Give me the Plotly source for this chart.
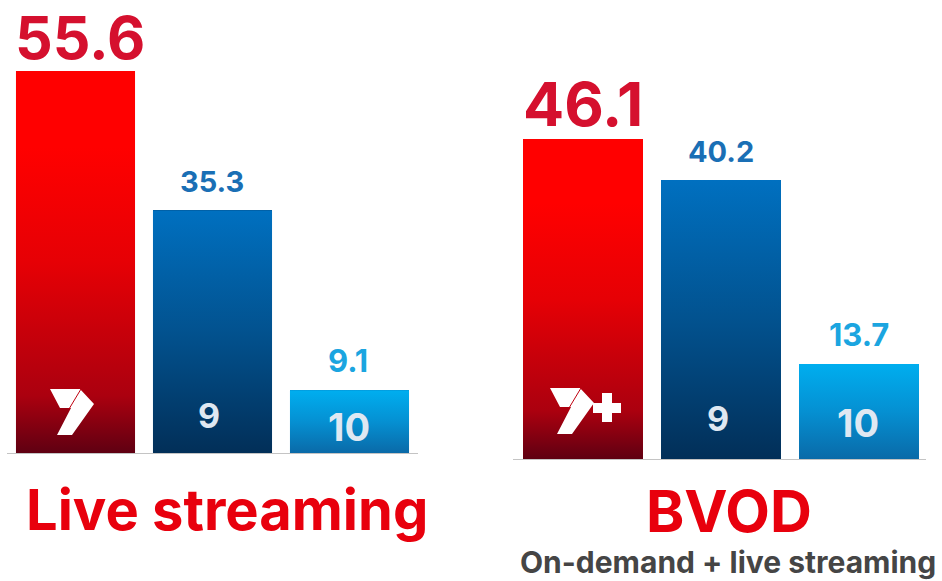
import plotly.graph_objects as go

networks = ["Seven", "Nine", "Ten"]
live_values = [55.6, 35.3, 9.1]
bvod_values = [46.1, 40.2, 13.7]
live_labels = ["55.6", "35.3", "9.1"]
bvod_labels = ["46.1", "40.2", "13.7"]
group_titles = ["Live streaming", "BVOD"]
subtitle = "On-demand + live streaming"

W, H = 942, 581
FONT = "Inter"
BAR_W = 0.869
gradients = [
    [[0, "#5f0012"], [0.15, "#ab000f"], [0.5, "#e60005"], [0.8, "#ff0000"], [1, "#ff0000"]],
    [[0, "#022f58"], [0.5, "#02528f"], [1, "#0070c0"]],
    [[0, "#0a6aa8"], [0.5, "#0590d2"], [1, "#00aeef"]],
]
mid_colors = ["#e60005", "#02528f", "#0590d2"]
label_colors = ["#d5102e", "#1a6fb5", "#1ba5e0"]
label_sizes = [59, 29, 31]
label_sizes_r = [61, 29, 31]

fig = go.Figure()


def add_group(values, xa, ya):
    fig.add_trace(go.Bar(x=list(range(3)), y=values, width=BAR_W, marker=dict(color=mid_colors, line_width=0),
                         xaxis=xa, yaxis=ya, showlegend=False, hoverinfo="skip"))
    for i, v in enumerate(values):
        l, r = i - BAR_W / 2, i + BAR_W / 2
        fig.add_trace(go.Scatter(x=[l, l, r, r, l], y=[0, v, v, 0, 0], mode="none", fill="toself",
                                 fillgradient=dict(type="vertical", colorscale=gradients[i]),
                                 xaxis=xa, yaxis=ya, showlegend=False, hoverinfo="skip"))


add_group(live_values, "x", "y")
add_group(bvod_values, "x2", "y2")

axis_common = dict(showgrid=False, zeroline=False, showticklabels=False, ticks="")
fig.update_layout(
    width=W, height=H, margin=dict(l=0, r=0, t=0, b=0), paper_bgcolor="white", plot_bgcolor="white",
    xaxis=dict(domain=[7 / W, 418 / W], range=[-0.5, 2.5], showline=False, **axis_common),
    yaxis=dict(domain=[(H - 453) / H, (H - 10) / H], range=[0, 64.48], **axis_common),
    xaxis2=dict(domain=[514 / W, 928 / W], range=[-0.5, 2.5], showline=False, anchor="y2", **axis_common),
    yaxis2=dict(domain=[(H - 459) / H, (H - 10) / H], range=[0, 64.7], anchor="x2", **axis_common),
    bargap=0,
)

anns = []
label_dx = [[4, -1, -2], [0, 0, 0]]
for g, (xr, yr, vals, labs, sizes) in enumerate([("x", "y", live_values, live_labels, label_sizes),
                                                 ("x2", "y2", bvod_values, bvod_labels, label_sizes_r)]):
    for i, (v, lab, s, c) in enumerate(zip(vals, labs, sizes, label_colors)):
        anns.append(dict(x=i, y=v, xref=xr, yref=yr, text=lab, showarrow=False, yanchor="bottom",
                         yshift=-4 if i == 0 else 9, xshift=label_dx[g][i],
                         font=dict(family=FONT, size=s, color=c, weight=700)))

# network marks on the bars
for xr, yr, i, txt, s, dx, dy in [("x", "y", 1, "9", 34, -4, 38), ("x", "y", 2, "10", 38, -1, 26),
                                  ("x2", "y2", 1, "9", 34, -3, 41), ("x2", "y2", 2, "10", 38, -1, 36)]:
    anns.append(dict(x=i, y=0, xref=xr, yref=yr, text=txt, showarrow=False, xshift=dx, yshift=dy,
                     font=dict(family=FONT, size=s, color="#dfe8f2", weight=700)))


def px_ann(cx, cy, text, size, color):
    return dict(x=cx / W, y=1 - cy / H, xref="paper", yref="paper", text=text, showarrow=False,
                xanchor="center", yanchor="middle",
                font=dict(family=FONT, size=size, color=color, weight=700))


anns.append(px_ann(227, 510, group_titles[0], 56, "#e8000d"))
anns.append(px_ann(729, 511, group_titles[1], 58, "#e8000d"))
anns.append(px_ann(728, 562, subtitle, 30, "#454545"))
fig.update_layout(annotations=anns)


def seven_path(ox, oy):
    pts = [(-25.5, 64), (4.5, 64), (18.5, 49), (-3.5, 18), (-18.5, 18), (-4.5, 45), (-15.5, 45)]
    return "M" + " L".join(f"{x + ox},{y + oy}" for x, y in pts) + " Z"


shapes = []
for xa, ya, ox, oy in [("x", "y", 0, 0), ("x2", "y2", -7.5, 7)]:
    shapes.append(dict(type="path", xref=xa, yref=ya, xsizemode="pixel", ysizemode="pixel", xanchor=0, yanchor=0,
                       path=seven_path(ox, oy), fillcolor="white", line_width=0, layer="above"))
    shapes.append(dict(type="path", xref=xa, yref=ya, xsizemode="pixel", ysizemode="pixel", xanchor=0, yanchor=0,
                       path=f"M{5.5 + ox},{64 + oy} L{-6.5 + ox},{44 + oy}", line=dict(color="#c0000f", width=1), layer="above"))
# plus sign of the BVOD mark
shapes.append(dict(type="path", xref="x2", yref="y2", xsizemode="pixel", ysizemode="pixel", xanchor=0, yanchor=0,
                   path="M10,56 H19 V66 H29 V56 H38 V46 H29 V37 H19 V46 H10 Z", fillcolor="white", line_width=0, layer="above"))
# baselines
shapes.append(dict(type="line", xref="paper", yref="paper", x0=7 / W, x1=418 / W, y0=1 - 453.5 / H, y1=1 - 453.5 / H,
                   line=dict(color="#c4c4c4", width=1), layer="below"))
shapes.append(dict(type="line", xref="paper", yref="paper", x0=513 / W, x1=926 / W, y0=1 - 459.5 / H, y1=1 - 459.5 / H,
                   line=dict(color="#c4c4c4", width=1), layer="below"))
fig.update_layout(shapes=shapes)

fig.write_html("out.html", config=dict(displayModeBar=False), post_script="document.body.style.margin='0';")
